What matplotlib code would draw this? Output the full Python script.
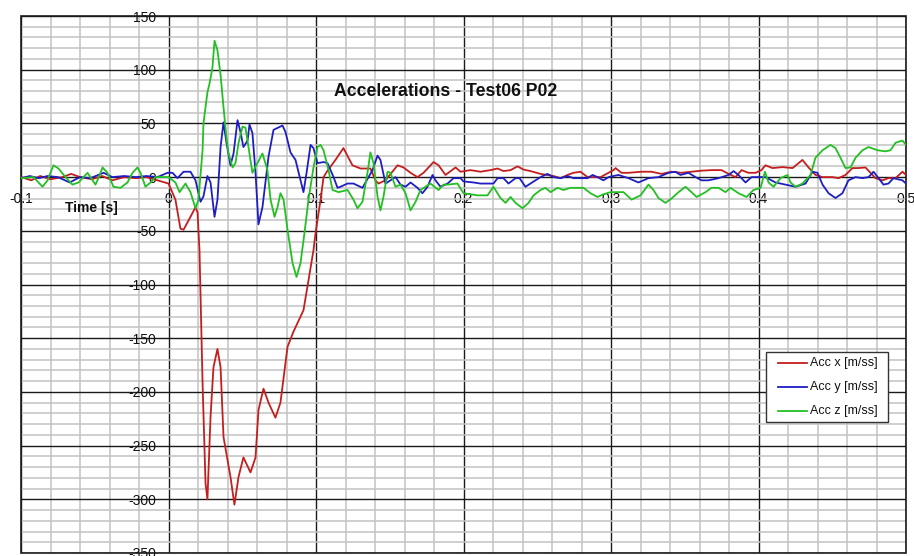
import matplotlib
matplotlib.use("Agg")
import matplotlib.pyplot as plt
from matplotlib.ticker import MultipleLocator, FuncFormatter
from matplotlib.patches import Rectangle
from matplotlib.lines import Line2D

plt.rcParams['font.family'] = ['Liberation Sans', 'DejaVu Sans']
plt.rcParams['axes.unicode_minus'] = False

# ---- measured accelerations, test 06 position P02 ----
t_x = [-0.1, -0.093, -0.087, -0.08, -0.072, -0.066, -0.06, -0.052, -0.045, -0.038,
       -0.03, -0.022, -0.015, -0.0075, 0.0, 0.0047, 0.0081, 0.0102, 0.0149, 0.0183,
       0.0197, 0.0210, 0.0231, 0.0251, 0.0264, 0.0285, 0.0305, 0.0332, 0.0353, 0.0373,
       0.0420, 0.0447, 0.0475, 0.0508, 0.0556, 0.0590, 0.0610, 0.0644, 0.0678, 0.0725,
       0.0759, 0.0807, 0.0847, 0.0915, 0.0942, 0.0983, 0.0997, 0.1031, 0.1051, 0.1078,
       0.1132, 0.1186, 0.1247, 0.1302, 0.1369, 0.1403, 0.1424, 0.1471, 0.1553, 0.1593,
       0.1641, 0.1688, 0.1729, 0.1797, 0.1831, 0.1878, 0.1946, 0.1980, 0.2047, 0.2115,
       0.2183, 0.2231, 0.2271, 0.2319, 0.2366, 0.2407, 0.2454, 0.2522, 0.2610, 0.2658,
       0.2705, 0.2746, 0.2793, 0.2841, 0.2929, 0.3017, 0.3031, 0.3071, 0.3119, 0.3207,
       0.3275, 0.3342, 0.3410, 0.3478, 0.3546, 0.3614, 0.3681, 0.3749, 0.3797, 0.3844,
       0.3885, 0.3932, 0.3980, 0.4020, 0.4047, 0.4095, 0.4163, 0.4231, 0.4298, 0.4339,
       0.4386, 0.4434, 0.4502, 0.4542, 0.4590, 0.4637, 0.4678, 0.4725, 0.4759, 0.4793,
       0.4841, 0.4881, 0.4929, 0.4976, 0.5]
acc_x = [0, -3, 1, -2, 0, 3, 0, -2, 1, -3,
         0, -1, 0, -3, -6, -21, -48, -49, -37, -28,
         -33, -68, -192, -285, -300, -223, -177, -160, -177, -242,
         -279, -305, -279, -261, -275, -261, -217, -197, -210, -224,
         -210, -158, -144, -124, -102, -68, -52, -21, 0, 6,
         16, 27, 11, 8, 8, -3, -6, -3, 11, 9,
         4, 0, 4, 14, 11, 2, 9, 5, 6.5, 5,
         6.5, 8, 5.6, 6.5, 10, 7, 5.6, 3, 1, -1,
         2, 4, 5, 0, 0, 6.5, 8.4, 4, 4, 5,
         5, 3, 5, 4, 5, 6, 6.5, 6.5, 3, 0,
         6.5, 4, 4, 6.5, 11, 8.4, 9.3, 8.4, 16, 9,
         2, 0, 0, -1, 2, 8.4, 8.4, 9, 4, -1,
         -3, -1, -1, 5, 2]

t_y = [-0.1, -0.094, -0.088, -0.082, -0.075, -0.067, -0.06, -0.053, -0.044, -0.038,
       -0.03, -0.022, -0.015, -0.0075, -0.0007, 0.0027, 0.0061, 0.0102, 0.0149, 0.0183,
       0.0217, 0.0237, 0.0264, 0.0285, 0.0312, 0.0332, 0.0353, 0.0373, 0.0393, 0.0420,
       0.0441, 0.0468, 0.0488, 0.0508, 0.0536, 0.0549, 0.0569, 0.0590, 0.0610, 0.0637,
       0.0678, 0.0712, 0.0773, 0.0793, 0.0827, 0.0861, 0.0895, 0.0915, 0.0936, 0.0963,
       0.0983, 0.1010, 0.1051, 0.1078, 0.1119, 0.1146, 0.1166, 0.1214, 0.1254, 0.1315,
       0.1383, 0.1417, 0.1437, 0.1471, 0.1505, 0.1539, 0.1573, 0.1607, 0.1641, 0.1688,
       0.1722, 0.1756, 0.1790, 0.1810, 0.1844, 0.1892, 0.1932, 0.1980, 0.2000, 0.2068,
       0.2115, 0.2203, 0.2231, 0.2271, 0.2305, 0.2353, 0.2380, 0.2420, 0.2454, 0.2522,
       0.2569, 0.2610, 0.2658, 0.2705, 0.2746, 0.2841, 0.2875, 0.2908, 0.2949, 0.2983,
       0.3051, 0.3119, 0.3186, 0.3254, 0.3322, 0.3390, 0.3437, 0.3471, 0.3525, 0.3573,
       0.3614, 0.3661, 0.3729, 0.3797, 0.3831, 0.3864, 0.3912, 0.3953, 0.4020, 0.4047,
       0.4115, 0.4183, 0.4251, 0.4319, 0.4366, 0.4400, 0.4434, 0.4475, 0.4522, 0.4569,
       0.4610, 0.4658, 0.4705, 0.4746, 0.4780, 0.4814, 0.4847, 0.4881, 0.4915, 0.4976,
       0.5]
acc_y = [-1, 1, -1, 1, 0, -5, 0, -1, 4, 0,
         1, 0, 1, 0, 4, 4, -1, 5, 5, -3,
         -23, -18, 1, -5, -37, -21, 28, 51, 32, 11,
         22, 53, 42, 28, 34, 49, 41, 4, -44, -28,
         19, 44, 48, 42, 23, 16, -3, -14, 4, 30,
         27, 13, 14, 13, 0, -10, -9, -6, -6, -10,
         6.5, 20, 16, -6, -3, 0, -7, -9, -5, -10,
         -15, -9, 2, -3, -9, -6, -1, -1, -4, -5,
         -6, -6, -1, -1, -6, -1, -1, -9, -6, 0,
         3, 0, -1, 1, -1, -1, 2, 0, -3, 0,
         2, -1, -5, -1, 0, 4, 5, 2, 4, 0,
         -3, -3, -1, 2, 5.6, 2, -5, 0, 0, 0,
         -5, -7, -9, -6, 5, 4, -7, -15, -19.5, -15,
         -3, 0, -1, 0, 5, -1, -7, -6, -1, -3,
         -6]

t_z = [-0.1, -0.0915, -0.0854, -0.0820, -0.0780, -0.0746, -0.0698, -0.0651, -0.0610, -0.0549,
       -0.0495, -0.0475, -0.0447, -0.0414, -0.0373, -0.0325, -0.0278, -0.0244, -0.0210, -0.0190,
       -0.0156, -0.0122, -0.0088, -0.0034, 0.0, 0.0047, 0.0075, 0.0115, 0.0149, 0.0183,
       0.0203, 0.0231, 0.0237, 0.0264, 0.0278, 0.0298, 0.0312, 0.0332, 0.0353, 0.0373,
       0.0393, 0.0407, 0.0434, 0.0454, 0.0475, 0.0502, 0.0522, 0.0542, 0.0569, 0.0603,
       0.0637, 0.0671, 0.0692, 0.0719, 0.0739, 0.0759, 0.0780, 0.0807, 0.0841, 0.0868,
       0.0895, 0.0922, 0.0949, 0.0983, 0.1010, 0.1031, 0.1051, 0.1085, 0.1112, 0.1153,
       0.1214, 0.1254, 0.1281, 0.1315, 0.1349, 0.1369, 0.1390, 0.1417, 0.1437, 0.1458,
       0.1485, 0.1505, 0.1539, 0.1573, 0.1607, 0.1641, 0.1675, 0.1708, 0.1742, 0.1776,
       0.1831, 0.1864, 0.1892, 0.1959, 0.2000, 0.2095, 0.2163, 0.2203, 0.2251, 0.2285,
       0.2319, 0.2353, 0.2400, 0.2441, 0.2475, 0.2522, 0.2556, 0.2590, 0.2637, 0.2678,
       0.2725, 0.2773, 0.2814, 0.2861, 0.2908, 0.2949, 0.2997, 0.3051, 0.3085, 0.3139,
       0.3200, 0.3254, 0.3288, 0.3322, 0.3369, 0.3410, 0.3458, 0.3505, 0.3546, 0.3580,
       0.3641, 0.3681, 0.3729, 0.3776, 0.3810, 0.3864, 0.3919, 0.3966, 0.4014, 0.4044,
       0.4068, 0.4102, 0.4149, 0.4197, 0.4217, 0.4251, 0.4298, 0.4353, 0.4386, 0.4434,
       0.4488, 0.4522, 0.4556, 0.4590, 0.4624, 0.4658, 0.4705, 0.4746, 0.4807, 0.4861,
       0.4895, 0.4929, 0.4976, 0.5]
acc_z = [-1, 0, -9, -3, 11, 8, 0, -7, -5, 4,
         -7, -1, 9, 4, -9, -10, -5, 4, 9, 4,
         -9, -5, 0, 0, 0, -5, -14, -6, -14, -29,
         -21, 25, 50, 79, 87, 102, 127, 118, 95, 65,
         37, 22, 9, 13, 32, 47, 46, 28, 4, 13,
         22, 6.5, -21, -37, -28, -15, -21, -49, -80, -93,
         -80, -52, -21, 9, 28, 30, 25, 6.5, -12, -14,
         -12, -21, -29, -23, 4, 23, 13, -18, -31, -18,
         5, 4, -9, -7, -15, -31, -23, -12, -9, -6,
         -12, -7, -7, -6, -15, -17, -17, -9, -19.5, -24,
         -18.5, -24, -29, -24, -17, -12, -10, -14, -10, -12,
         -10, -10, -10, -15, -18.5, -16, -14, -14, -14, -21,
         -17, -7, -12, -19.5, -24, -20, -14, -9, -14, -18.5,
         -14, -10, -10, -14, -10, -15, -18.5, -12, -10, 5,
         -5, -9, -1, 2, -5, -9, -6, 2, 18, 25,
         30, 27, 18, 8.4, 9, 18, 25, 28, 25, 24,
         25, 32, 34, 30]

series = [
    (t_x, acc_x, "Acc x [m/ss]", "#c41e1e"),
    (t_y, acc_y, "Acc y [m/ss]", "#1e1ec4"),
    (t_z, acc_z, "Acc z [m/ss]", "#22c022"),
]

W, H = 914, 556
fig = plt.figure(figsize=(W / 100, H / 100), dpi=100, facecolor="white")
ax = fig.add_axes([21 / W, 3 / H, 885 / W, 537 / H])
ax.set_facecolor("white")

for i, (t, v, lab, col) in enumerate(series):
    ax.plot(t, v, color=col, lw=1.3, label=lab, zorder=3 + i)

ax.set_xlim(-0.1, 0.5)
ax.set_ylim(-350, 150)

ax.xaxis.set_major_locator(MultipleLocator(0.1))
ax.xaxis.set_minor_locator(MultipleLocator(0.02))
ax.yaxis.set_major_locator(MultipleLocator(50))
ax.yaxis.set_minor_locator(MultipleLocator(10))
fmt = FuncFormatter(lambda v, p: "%g" % round(v, 6))
ax.xaxis.set_major_formatter(fmt)
ax.yaxis.set_major_formatter(fmt)

ax.grid(which="minor", color="#c2c2c2", lw=1.1, zorder=0)
ax.grid(which="major", color="#1a1a1a", lw=1.0, zorder=1)
ax.set_axisbelow(True)

# axes cross at the origin; tick labels sit along those lines
ax.spines["left"].set_position(("data", 0))
ax.spines["bottom"].set_position(("data", 0))
for s in ax.spines.values():
    s.set_color("none")
ax.tick_params(which="both", length=0)
ax.tick_params(axis="y", labelsize=10, pad=9, labelcolor="#111111")
ax.tick_params(axis="x", labelsize=10, pad=11, labelcolor="#111111")
for lbl in ax.get_xticklabels() + ax.get_yticklabels():
    lbl.set_clip_on(False)

ax.add_patch(Rectangle((0, 0), 1, 1, transform=ax.transAxes, fill=False,
                       ec="#1a1a1a", lw=1.2, clip_on=False, zorder=2))

fig.text(91 / W, 1 - 208 / H, "Time [s]", fontsize=10, fontweight="bold",
         ha="center", va="center", color="#111111")
fig.text(446 / W, 1 - 91 / H, "Accelerations - Test06 P02", fontsize=12.7,
         fontweight="bold", ha="center", va="center", color="#111111")

# legend box, built from the plotted series
fig.add_artist(Rectangle((766 / W, 1 - 422 / H), 122 / W, 70 / H,
                         transform=fig.transFigure, facecolor="white",
                         edgecolor="#333333", lw=1.0, zorder=10))
for k, (t, v, lab, col) in enumerate(series):
    yk = 1 - (363 + 24 * k) / H
    fig.add_artist(Line2D([778 / W, 807 / W], [yk, yk], transform=fig.transFigure,
                          color=col, lw=1.3, zorder=11))
    fig.text(810 / W, yk, lab, fontsize=9, ha="left", va="center",
             color="#111111", zorder=11)

fig.savefig("out.png", dpi=100, facecolor="white")
